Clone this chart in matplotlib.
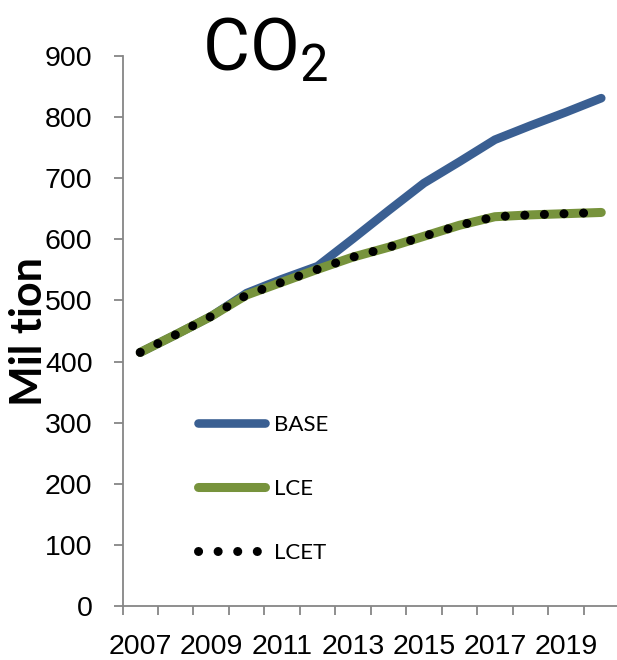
##CO2 emissions by scenario, 2007-2020
import numpy as np
import matplotlib as mpl
import matplotlib.pyplot as plt

##data (million ton)
years = list(range(2007, 2021))
base = [415, 444, 474, 512, 535, 556, 601, 647, 692, 727, 763, 786, 808, 831]
lce = [415, 444, 474, 509, 530, 551, 571, 587, 605, 623, 637, 640, 642, 644]
lcet = [415, 444, 474, 509, 530, 551, 571, 587, 605, 623, 637, 640, 642, 644]
series_names = ['BASE', 'LCE', 'LCET']
xlabels = [str(y) for y in years[::2]]
yticks = list(range(0, 901, 100))

##title is narrow in the original, Roboto is the closest one here
title_font = 'Roboto'

mpl.rcParams['font.family'] = ['Liberation Sans', 'DejaVu Sans']
mpl.rcParams['mathtext.fontset'] = 'custom'
mpl.rcParams['mathtext.rm'] = title_font
mpl.rcParams['mathtext.default'] = 'regular'

gray = '#868686'
fig = plt.figure(figsize=(6.17, 6.6), dpi=100)
ax = fig.add_axes([122.5/617, 1-606/660, 496.5/617, 550/660])

x = np.arange(len(years))
ax.plot(x, base, color='#3A5F92', lw=6.2, solid_capstyle='round', label=series_names[0])
ax.plot(x, lce, color='#77933C', lw=6.5, solid_capstyle='round', label=series_names[1])
ax.plot(x, lcet, color='black', lw=6.5, linestyle=(0, (0.01, 2.16)),
        dash_capstyle='round', label=series_names[2])

ax.set_xlim(-0.5, len(years)-0.5)
ax.set_ylim(0, 900)
ax.set_yticks(yticks)
ax.set_xticks(x[::2])
ax.set_xticklabels(xlabels)
ax.set_xticks(np.arange(-0.5, len(years), 1), minor=True)
ax.tick_params(axis='x', which='major', length=0, pad=20, labelsize=20.5)
ax.tick_params(axis='x', which='minor', length=6.8, width=1.3, color=gray)
ax.tick_params(axis='y', length=6.8, width=1.3, color=gray, pad=14.8, labelsize=20.5)
for s in ['top', 'right']:
    ax.spines[s].set_visible(False)
for s in ['left', 'bottom']:
    ax.spines[s].set_color(gray)
    ax.spines[s].set_linewidth(1.3)

##legend inside the plot area
ax.legend(loc='upper left', bbox_to_anchor=(0.153, 0.347), frameon=False,
          borderpad=0, borderaxespad=0, handlelength=3.0, handletextpad=0.38,
          labelspacing=1.97, prop={'family': 'Lato', 'size': 16})

##title and y label
fig.text(202/617, 1-71/660, r'CO$_2$', fontsize=52, ha='left', va='baseline',
         family=title_font)
fig.text(29/617, 1-332/660, 'Mil tion', rotation=90, ha='center', va='center',
         fontsize=31, fontweight='bold', family='Lato')

fig.savefig('out.png', dpi=100)
